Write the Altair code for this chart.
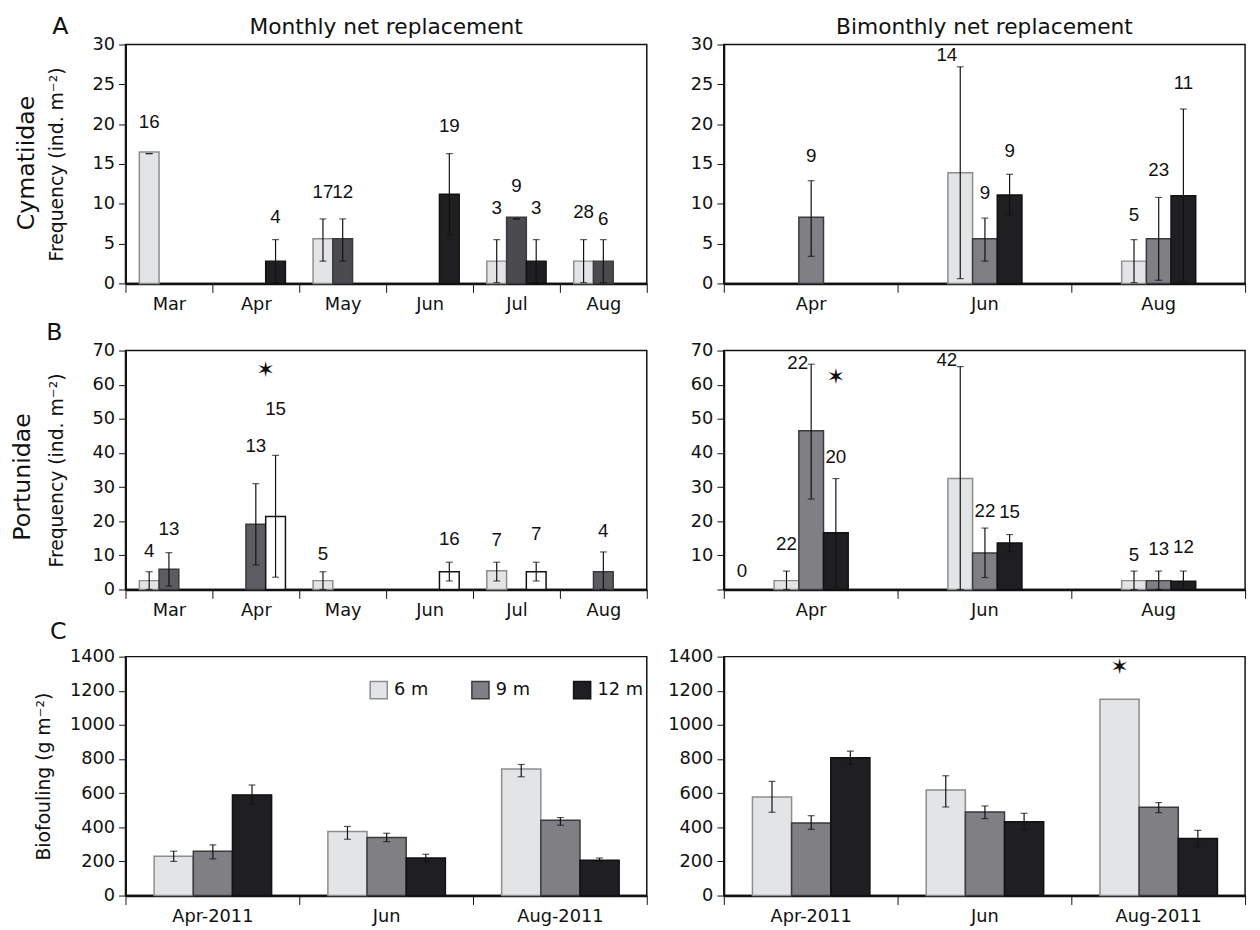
import altair as alt
import pandas as pd

FONT = "DejaVu Sans"
NUM_FONT = "Liberation Sans"
DEPTHS = ["6 m", "9 m", "12 m"]
MONTHS = ["Mar", "Apr", "May", "Jun", "Jul", "Aug"]
BIMONTHS = ["Apr", "Jun", "Aug"]
BIOF_MONTHS = ["Apr-2011", "Jun", "Aug-2011"]

# ---------------- A: Cymatiidae, monthly ----------------
a1_month = ["Mar", "Apr", "May", "May", "Jun", "Jul", "Jul", "Jul", "Aug", "Aug"]
a1_depth = ["6 m", "12 m", "6 m", "9 m", "12 m", "6 m", "9 m", "12 m", "6 m", "9 m"]
a1_mean = [16.5, 2.8, 5.6, 5.6, 11.2, 2.8, 8.3, 2.8, 2.8, 2.8]
a1_lo = [16.3, 0.1, 2.8, 2.8, 6.1, 0.1, 8.1, 0.1, 0.1, 0.1]
a1_hi = [16.3, 5.5, 8.1, 8.1, 16.3, 5.5, 8.1, 5.5, 5.5, 5.5]
a1_lab_month = ["Mar", "Apr", "May", "May", "Jun", "Jul", "Jul", "Jul", "Aug", "Aug"]
a1_lab_depth = ["6 m", "12 m", "6 m", "9 m", "12 m", "6 m", "9 m", "12 m", "6 m", "9 m"]
a1_lab_text = ["16", "4", "17", "12", "19", "3", "9", "3", "28", "6"]
a1_lab_y = [20.2, 8.3, 11.5, 11.5, 19.7, 9.4, 12.2, 9.4, 9.0, 8.1]
a1_lab_side = ["c"] * 10

# ---------------- A: Cymatiidae, bimonthly ----------------
a2_month = ["Apr", "Jun", "Jun", "Jun", "Aug", "Aug", "Aug"]
a2_depth = ["9 m", "6 m", "9 m", "12 m", "6 m", "9 m", "12 m"]
a2_mean = [8.3, 13.9, 5.6, 11.1, 2.8, 5.6, 11.0]
a2_lo = [3.4, 0.6, 2.8, 8.6, 0.1, 0.4, 0.2]
a2_hi = [12.9, 27.2, 8.2, 13.7, 5.5, 10.8, 21.9]
a2_lab_month = ["Apr", "Jun", "Jun", "Jun", "Aug", "Aug", "Aug"]
a2_lab_depth = ["9 m", "6 m", "9 m", "12 m", "6 m", "9 m", "12 m"]
a2_lab_text = ["9", "14", "9", "9", "5", "23", "11"]
a2_lab_y = [16.0, 28.7, 11.4, 16.6, 8.6, 14.2, 25.2]
a2_lab_side = ["c", "l", "c", "c", "c", "c", "c"]

# ---------------- B: Portunidae, monthly ----------------
b1_month = ["Mar", "Mar", "Apr", "Apr", "May", "Jun", "Jul", "Jul", "Aug"]
b1_depth = ["6 m", "9 m", "9 m", "12 m", "6 m", "12 m", "6 m", "12 m", "9 m"]
b1_mean = [2.6, 5.9, 19.1, 21.4, 2.6, 5.2, 5.5, 5.2, 5.2]
b1_lo = [0.0, 1.0, 7.2, 3.6, 0.0, 2.5, 2.5, 2.5, 0.0]
b1_hi = [5.2, 10.8, 31.0, 39.3, 5.2, 8.0, 8.0, 8.0, 11.0]
b1_lab_month = ["Mar", "Mar", "Apr", "Apr", "May", "Jun", "Jul", "Jul", "Aug"]
b1_lab_depth = ["6 m", "9 m", "9 m", "12 m", "6 m", "12 m", "6 m", "12 m", "9 m"]
b1_lab_text = ["4", "13", "13", "15", "5", "16", "7", "7", "4"]
b1_lab_y = [11.3, 17.6, 42.1, 52.8, 10.3, 14.7, 14.4, 16.1, 17.1]
b1_lab_side = ["c"] * 9
b1_star_month = ["Apr"]
b1_star_depth = ["12 m"]
b1_star_y = [64.3]

# ---------------- B: Portunidae, bimonthly ----------------
b2_month = ["Apr", "Apr", "Apr", "Jun", "Jun", "Jun", "Aug", "Aug", "Aug"]
b2_depth = ["6 m", "9 m", "12 m", "6 m", "9 m", "12 m", "6 m", "9 m", "12 m"]
b2_mean = [2.6, 46.5, 16.6, 32.5, 10.7, 13.6, 2.6, 2.6, 2.4]
b2_lo = [0.0, 26.5, 0.7, 0.0, 3.5, 11.1, 0.0, 0.0, 0.0]
b2_hi = [5.4, 66.0, 32.5, 65.3, 18.0, 16.1, 5.4, 5.4, 5.4]
b2_lab_month = ["Apr", "Apr", "Apr", "Apr", "Jun", "Jun", "Jun", "Aug", "Aug", "Aug"]
b2_lab_depth = ["6 m", "6 m", "9 m", "12 m", "6 m", "9 m", "12 m", "6 m", "9 m", "12 m"]
b2_lab_text = ["0", "22", "22", "20", "42", "22", "15", "5", "13", "12"]
b2_lab_y = [5.3, 13.2, 66.4, 38.9, 67.1, 23.1, 22.6, 10.0, 11.9, 12.4]
b2_lab_side = ["far", "c", "l", "c", "l", "c", "c", "c", "c", "c"]
b2_star_month = ["Apr"]
b2_star_depth = ["12 m"]
b2_star_y = [62.2]

# ---------------- C: Biofouling, monthly ----------------
c1_month = ["Apr-2011"] * 3 + ["Jun"] * 3 + ["Aug-2011"] * 3
c1_depth = DEPTHS * 3
c1_mean = [230, 260, 590, 375, 340, 220, 741, 441, 207]
c1_lo = [200, 215, 535, 330, 316, 198, 696, 412, 200]
c1_hi = [260, 297, 648, 405, 365, 242, 768, 457, 220]

# ---------------- C: Biofouling, bimonthly ----------------
c2_month = ["Apr-2011"] * 3 + ["Jun"] * 3 + ["Aug-2011"] * 3
c2_depth = DEPTHS * 3
c2_mean = [578, 425, 808, 618, 490, 433, 1150, 517, 334]
c2_lo = [488, 388, 770, 519, 451, 385, None, 486, 286]
c2_hi = [669, 468, 846, 702, 525, 482, None, 545, 382]
c2_star_month = ["Aug-2011"]
c2_star_depth = ["6 m"]
c2_star_y = [1338]

FILL_A1 = ["#e3e4e6", "#4b4a4f", "#1f1f22"]
FILL_STD = ["#e3e4e6", "#7f7f84", "#1f1f22"]
FILL_B1 = ["#e3e4e6", "#5d5d61", "#ffffff"]
STROKE_STD = ["#8d8d90", "#3a3a3d", "#111113"]

W, H = 528, 242


def panel(month, depth, mean, lo, hi, x_domain, y_max, y_step, fills, slot_range,
          lab=None, stars=None, star_dx=0, y_title=None, title_pad=26,
          hide_zero=False, legend=False, title=None, letter=None, group=None):
    bars_df = pd.DataFrame({"month": month, "depth": depth, "mean": mean,
                            "lo": lo, "hi": hi})
    x_axis = alt.Axis(title=None, tickBand="extent", tickSize=9, labelPadding=3,
                      labelAngle=0, domainWidth=2.5, labelFontSize=18,
                      tickColor="#111", domainColor="#111")
    y_kw = dict(values=list(range(0, y_max + 1, y_step)), format="d", tickSize=7,
                labelPadding=4, domainWidth=2, grid=False, labelFontSize=18,
                tickColor="#111", domainColor="#111", titleFontSize=19,
                titleFontWeight="normal", titlePadding=title_pad)
    if hide_zero:
        y_kw["labelExpr"] = "datum.value == 0 ? '' : datum.label"
    y_axis = alt.Axis(title=y_title, **y_kw)
    ysc = alt.Scale(domain=[0, y_max], nice=False)
    X = alt.X("month:N", scale=alt.Scale(domain=x_domain, paddingInner=0, paddingOuter=0),
              axis=x_axis)
    XO = alt.XOffset("depth:N", scale=alt.Scale(domain=DEPTHS, paddingInner=0,
                                                paddingOuter=0, range=slot_range))
    if legend:
        leg = alt.Legend(title=None, orient="none", legendX=247, legendY=24,
                         direction="horizontal", symbolType="square", symbolSize=300,
                         symbolStrokeColor="#555", symbolStrokeWidth=1.5,
                         labelFontSize=18, columnPadding=40, labelOffset=6)
        fill = alt.Fill("depth:N", scale=alt.Scale(domain=DEPTHS, range=fills), legend=leg)
    else:
        fill = alt.Fill("depth:N", scale=alt.Scale(domain=DEPTHS, range=fills), legend=None)
    base = alt.Chart(bars_df)
    bars = base.mark_bar(strokeWidth=1.5).encode(
        x=X, xOffset=XO,
        y=alt.Y("mean:Q", scale=ysc, axis=y_axis),
        fill=fill,
        stroke=alt.Stroke("depth:N", scale=alt.Scale(domain=DEPTHS, range=STROKE_STD),
                          legend=None),
    )
    err = base.transform_filter("isValid(datum.hi)")
    whisk = err.mark_rule(color="#111", strokeWidth=1.2).encode(
        x=X, xOffset=XO, y=alt.Y("lo:Q", scale=ysc, axis=y_axis), y2="hi:Q")
    cap_hi = err.mark_tick(color="#111", size=7, thickness=1.2).encode(
        x=X, xOffset=XO, y=alt.Y("hi:Q", scale=ysc, axis=y_axis))
    cap_lo = err.mark_tick(color="#111", size=7, thickness=1.2).encode(
        x=X, xOffset=XO, y=alt.Y("lo:Q", scale=ysc, axis=y_axis))
    layers = [bars, whisk, cap_hi, cap_lo]

    if lab is not None:
        lab_df = pd.DataFrame({"month": lab[0], "depth": lab[1], "text": lab[2],
                               "ly": lab[3], "side": lab[4]})
        lb = alt.Chart(lab_df)
        enc = dict(x=X, xOffset=XO, y=alt.Y("ly:Q", scale=ysc, axis=y_axis), text="text:N")
        tkw = dict(font=NUM_FONT, fontSize=19, color="#111", baseline="middle")
        layers.append(lb.transform_filter("datum.side == 'c'").mark_text(**tkw).encode(**enc))
        layers.append(lb.transform_filter("datum.side == 'l'").mark_text(
            align="right", dx=-3, **tkw).encode(**enc))
        layers.append(lb.transform_filter("datum.side == 'far'").mark_text(
            dx=-45, **tkw).encode(**enc))
    if stars is not None:
        st_df = pd.DataFrame({"month": stars[0], "depth": stars[1], "sy": stars[2],
                              "s": ["\u2736"] * len(stars[0])})
        layers.append(alt.Chart(st_df).mark_text(fontSize=22, color="#111",
                                                 baseline="middle", dx=star_dx).encode(
            x=X, xOffset=XO, y=alt.Y("sy:Q", scale=ysc, axis=y_axis), text="s:N"))
    if letter is not None:
        layers.append(alt.Chart(pd.DataFrame({"t": [letter[0]]})).mark_text(
            fontSize=24, color="#111", baseline="middle").encode(
            text="t:N", x=alt.value(letter[1]), y=alt.value(letter[2])))
    if group is not None:
        layers.append(alt.Chart(pd.DataFrame({"t": [group[0]]})).mark_text(
            fontSize=24, color="#111", baseline="middle", angle=270).encode(
            text="t:N", x=alt.value(group[1]), y=alt.value(group[2])))
    if title is not None:
        layers.append(alt.Chart(pd.DataFrame({"t": [title]})).mark_text(
            fontSize=22, color="#111", baseline="middle").encode(
            text="t:N", x=alt.value(W / 2), y=alt.value(-18)))

    return alt.layer(*layers).properties(width=W, height=H)


FREQ = "Frequency (ind. m\u207b\u00b2)"
SLOT_M = [14, 74]      # three 20-px slots inside an 88-px month band
SLOT_BI = [51, 126]    # three 25-px slots inside a 176-px band
SLOT_C = [29, 148]     # three 40-px slots inside a 176-px band

pA1 = panel(a1_month, a1_depth, a1_mean, a1_lo, a1_hi, MONTHS, 30, 5, FILL_A1, SLOT_M,
            lab=(a1_lab_month, a1_lab_depth, a1_lab_text, a1_lab_y, a1_lab_side),
            y_title=FREQ, title="Monthly net replacement",
            letter=("A", -66, -18), group=("Cymatiidae", -100, 120))
pA2 = panel(a2_month, a2_depth, a2_mean, a2_lo, a2_hi, BIMONTHS, 30, 5, FILL_STD, SLOT_BI,
            lab=(a2_lab_month, a2_lab_depth, a2_lab_text, a2_lab_y, a2_lab_side),
            title="Bimonthly net replacement")
pB1 = panel(b1_month, b1_depth, b1_mean, b1_lo, b1_hi, MONTHS, 70, 10, FILL_B1, SLOT_M,
            lab=(b1_lab_month, b1_lab_depth, b1_lab_text, b1_lab_y, b1_lab_side),
            stars=(b1_star_month, b1_star_depth, b1_star_y), star_dx=-10,
            y_title=FREQ, letter=("B", -72, -18), group=("Portunidae", -104, 128))
pB2 = panel(b2_month, b2_depth, b2_mean, b2_lo, b2_hi, BIMONTHS, 70, 10, FILL_STD, SLOT_BI,
            lab=(b2_lab_month, b2_lab_depth, b2_lab_text, b2_lab_y, b2_lab_side),
            stars=(b2_star_month, b2_star_depth, b2_star_y), hide_zero=True)
pC1 = panel(c1_month, c1_depth, c1_mean, c1_lo, c1_hi, BIOF_MONTHS, 1400, 200, FILL_STD, SLOT_C,
            y_title="Biofouling (g m\u207b\u00b2)", title_pad=16, legend=True,
            letter=("C", -68, -25))
pC2 = panel(c2_month, c2_depth, c2_mean, c2_lo, c2_hi, BIOF_MONTHS, 1400, 200, FILL_STD, SLOT_C,
            stars=(c2_star_month, c2_star_depth, c2_star_y))

chart = alt.concat(pA1, pA2, pB1, pB2, pC1, pC2, columns=2,
                   spacing={"row": 68, "column": 78}, bounds="flush").resolve_scale(
    x="independent", y="independent", xOffset="independent",
    fill="independent", stroke="independent"
).configure_view(stroke="#111", strokeWidth=1.5).configure_axis(
    labelFont=FONT, titleFont=FONT, labelColor="#111", titleColor="#111"
).configure_text(font=FONT).configure_legend(
    labelFont=FONT, labelColor="#111"
).properties(background="white",
             padding={"left": 2, "top": 0, "right": 5, "bottom": 5})

chart.save("out.html", embed_options={"renderer": "svg", "actions": False})
